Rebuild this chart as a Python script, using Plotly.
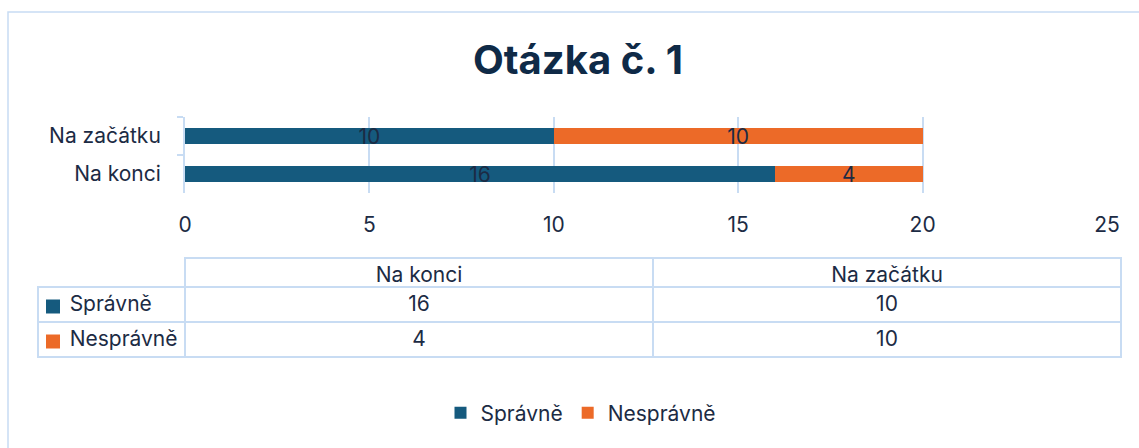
import plotly.graph_objects as go

categories = ["Na konci", "Na začátku"]
series_names = ["Správně", "Nesprávně"]
spravne = [16, 10]
nespravne = [4, 10]
x_ticks = [0, 5, 10, 15, 20, 25]
title_text = "Otázka č. 1"

W, H = 1139, 448
BLUE = "#155a7e"
ORANGE = "#ec6a28"
COLORS = [BLUE, ORANGE]
TXT = "#1c2b44"
LINE = "#c8dcf3"
FONT = "Inter"
FS = 21

# table geometry (pixels)
T_LEFT, T_RIGHT, T_TOP = 38, 1121, 258
HEAD_H, ROW_H = 29, 35
COL_W = [147, 468, 468]

def px(x):
    return x / W

def py(y):
    return 1 - y / H

fig = go.Figure()
for name, vals, col in zip(series_names, [spravne, nespravne], COLORS):
    fig.add_trace(go.Bar(
        y=categories, x=vals, name=name, orientation="h",
        marker=dict(color=col, line=dict(width=0)),
        text=vals, textposition="inside", insidetextanchor="middle",
        textangle=0, constraintext="none",
        textfont=dict(color=TXT, size=FS, family=FONT),
        cliponaxis=False,
    ))

n_rows = len(series_names)
t_bottom = T_TOP + HEAD_H + ROW_H * n_rows + 2
fig.add_trace(go.Table(
    domain=dict(x=[px(T_LEFT), px(T_RIGHT)], y=[py(t_bottom), py(T_TOP)]),
    columnwidth=COL_W,
    header=dict(
        values=[""] + categories,
        align=["left", "center", "center"],
        fill=dict(color=["rgba(0,0,0,0)", "white", "white"]),
        line=dict(color=["rgba(0,0,0,0)", LINE, LINE], width=2),
        font=dict(color=TXT, size=FS, family=FONT),
        height=HEAD_H,
    ),
    cells=dict(
        values=[series_names,
                [spravne[0], nespravne[0]],
                [spravne[1], nespravne[1]]],
        prefix=["\u00a0\u00a0\u00a0\u00a0", "", ""],
        align=["left", "center", "center"],
        fill=dict(color="white"),
        line=dict(color=LINE, width=2),
        font=dict(color=TXT, size=FS, family=FONT),
        height=ROW_H,
    ),
))

# legend keys inside the table's first column
shapes = [dict(type="rect", xref="paper", yref="paper", x0=px(8), x1=1.2, y0=-0.3, y1=py(12),
               line=dict(color=LINE, width=1.5), layer="below")]
for i, col in enumerate(COLORS):
    cy = T_TOP + HEAD_H + ROW_H * i + ROW_H / 2 + 2
    shapes.append(dict(type="rect", xref="paper", yref="paper",
                       x0=px(T_LEFT + 8), x1=px(T_LEFT + 22), y0=py(cy + 7), y1=py(cy - 7),
                       fillcolor=col, line=dict(width=0), layer="above"))

fig.update_layout(
    width=W, height=H,
    margin=dict(l=0, r=0, t=0, b=0),
    paper_bgcolor="white", plot_bgcolor="white",
    barmode="stack", bargap=0.58,
    font=dict(family=FONT, color=TXT, size=FS),
    title=dict(text=f"<b>{title_text}</b>", x=px(578), y=py(60), xanchor="center", yanchor="middle",
               font=dict(size=40, color="#0f2a47", family=FONT)),
    xaxis=dict(domain=[px(185), px(1107)], range=[0, 25], tickvals=x_ticks, showgrid=True,
               gridcolor=LINE, gridwidth=2, zeroline=False, showline=False, automargin=False,
               tickfont=dict(size=FS, color=TXT, family=FONT), ticks="", ticklabelstandoff=17,
               fixedrange=True),
    yaxis=dict(domain=[py(193), py(117)], showline=True, linecolor=LINE, linewidth=2,
               ticks="outside", tickson="boundaries", ticklen=6, tickcolor=LINE, tickwidth=2,
               showgrid=False, automargin=False,
               tickfont=dict(size=FS, color=TXT, family=FONT), ticklabelstandoff=18),
    legend=dict(orientation="h", x=px(581), y=py(413), xanchor="center", yanchor="middle",
                font=dict(size=FS, color=TXT, family=FONT), traceorder="normal", itemclick=False),
    shapes=shapes,
)

fig.write_html("out.html")
